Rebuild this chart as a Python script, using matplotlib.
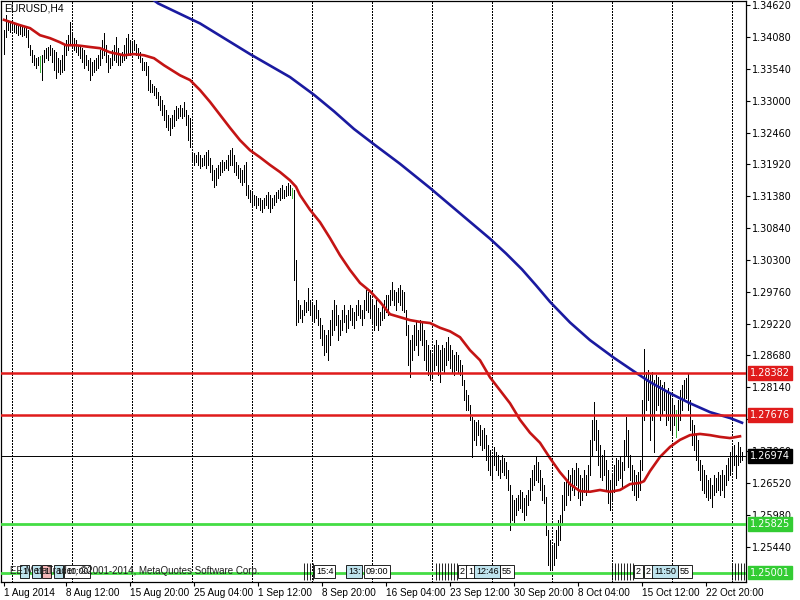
import matplotlib
matplotlib.use("Agg")
import matplotlib.pyplot as plt
import matplotlib.transforms as mtransforms
import numpy as np

# EURUSD H4 bars, 1 Aug 2014 08:00 .. 27 Oct 2014 (high / low per bar)
bar_high = [
    1.3420, 1.3445, 1.3437, 1.3433, 1.3433, 1.3430, 1.3432, 1.3428, 1.3427, 1.3428,
    1.3425, 1.3423, 1.3420, 1.3394, 1.3386, 1.3377, 1.3372, 1.3374, 1.3376, 1.3377,
    1.3386, 1.3389, 1.3391, 1.3394, 1.3389, 1.3386, 1.3382, 1.3372, 1.3369, 1.3377,
    1.3394, 1.3403, 1.3411, 1.3433, 1.3416, 1.3406, 1.3403, 1.3394, 1.3391, 1.3389,
    1.3386, 1.3377, 1.3369, 1.3372, 1.3365, 1.3369, 1.3372, 1.3377, 1.3386, 1.3403,
    1.3415, 1.3394, 1.3377, 1.3372, 1.3386, 1.3394, 1.3408, 1.3389, 1.3377, 1.3382,
    1.3394, 1.3406, 1.3413, 1.3403, 1.3399, 1.3403, 1.3396, 1.3389, 1.3382, 1.3372,
    1.3365, 1.3365, 1.3358, 1.3335, 1.3328, 1.3325, 1.3321, 1.3315, 1.3308, 1.3301,
    1.3293, 1.3284, 1.3276, 1.3271, 1.3276, 1.3284, 1.3291, 1.3288, 1.3293, 1.3288,
    1.3298, 1.3284, 1.3276, 1.3270, 1.3213, 1.3211, 1.3208, 1.3213, 1.3208, 1.3203,
    1.3208, 1.3213, 1.3216, 1.3203, 1.3191, 1.3182, 1.3186, 1.3191, 1.3196, 1.3199,
    1.3196, 1.3199, 1.3208, 1.3216, 1.3220, 1.3208, 1.3196, 1.3191, 1.3186, 1.3182,
    1.3191, 1.3196, 1.3157, 1.3149, 1.3145, 1.3140, 1.3138, 1.3135, 1.3135, 1.3132,
    1.3135, 1.3140, 1.3145, 1.3140, 1.3135, 1.3140, 1.3145, 1.3149, 1.3152, 1.3157,
    1.3149, 1.3155, 1.3160, 1.3157, 1.3152, 1.3149, 1.3030, 1.2962, 1.2953, 1.2945,
    1.2962, 1.2958, 1.2982, 1.2962, 1.2958, 1.2953, 1.2962, 1.2945, 1.2931, 1.2919,
    1.2911, 1.2903, 1.2911, 1.2928, 1.2945, 1.2962, 1.2953, 1.2937, 1.2928, 1.2945,
    1.2953, 1.2937, 1.2945, 1.2953, 1.2948, 1.2942, 1.2953, 1.2962, 1.2953, 1.2945,
    1.2962, 1.2979, 1.2975, 1.2970, 1.2962, 1.2953, 1.2962, 1.2948, 1.2942, 1.2953,
    1.2962, 1.2970, 1.2970, 1.2979, 1.2992, 1.2979, 1.2975, 1.2982, 1.2987, 1.2979,
    1.2975, 1.2945, 1.2919, 1.2894, 1.2903, 1.2919, 1.2928, 1.2911, 1.2928, 1.2925,
    1.2911, 1.2894, 1.2886, 1.2877, 1.2869, 1.2886, 1.2894, 1.2886, 1.2877, 1.2886,
    1.2881, 1.2891, 1.2899, 1.2886, 1.2877, 1.2869, 1.2874, 1.2869, 1.2860, 1.2852,
    1.2826, 1.2809, 1.2801, 1.2784, 1.2764, 1.2759, 1.2755, 1.2759, 1.2750, 1.2742,
    1.2745, 1.2733, 1.2716, 1.2708, 1.2699, 1.2713, 1.2704, 1.2699, 1.2691, 1.2699,
    1.2694, 1.2687, 1.2674, 1.2649, 1.2632, 1.2623, 1.2626, 1.2632, 1.2640, 1.2637,
    1.2626, 1.2632, 1.2640, 1.2660, 1.2674, 1.2683, 1.2696, 1.2687, 1.2674, 1.2660,
    1.2649, 1.2628, 1.2572, 1.2555, 1.2547, 1.2550, 1.2572, 1.2589, 1.2598, 1.2632,
    1.2654, 1.2657, 1.2674, 1.2666, 1.2677, 1.2674, 1.2686, 1.2677, 1.2666, 1.2660,
    1.2674, 1.2666, 1.2683, 1.2725, 1.2759, 1.2789, 1.2759, 1.2742, 1.2716, 1.2699,
    1.2708, 1.2691, 1.2674, 1.2657, 1.2666, 1.2683, 1.2694, 1.2691, 1.2696, 1.2687,
    1.2725, 1.2764, 1.2742, 1.2699, 1.2683, 1.2674, 1.2666, 1.2671, 1.2691, 1.2792,
    1.2879, 1.2840, 1.2843, 1.2835, 1.2840, 1.2826, 1.2835, 1.2832, 1.2826, 1.2818,
    1.2823, 1.2809, 1.2813, 1.2801, 1.2792, 1.2784, 1.2776, 1.2792, 1.2809, 1.2818,
    1.2826, 1.2830, 1.2838, 1.2792, 1.2759, 1.2750, 1.2733, 1.2725, 1.2691, 1.2683,
    1.2674, 1.2666, 1.2657, 1.2660, 1.2649, 1.2666, 1.2660, 1.2671, 1.2666, 1.2674,
    1.2666, 1.2683, 1.2694, 1.2704, 1.2711, 1.2716, 1.2699, 1.2721, 1.2713, 1.2704,
]
bar_low = [
    1.3379, 1.3408, 1.3420, 1.3416, 1.3420, 1.3416, 1.3415, 1.3411, 1.3413, 1.3410,
    1.3411, 1.3408, 1.3391, 1.3377, 1.3366, 1.3361, 1.3355, 1.3361, 1.3349, 1.3335,
    1.3366, 1.3372, 1.3369, 1.3377, 1.3366, 1.3352, 1.3338, 1.3349, 1.3345, 1.3349,
    1.3352, 1.3377, 1.3386, 1.3394, 1.3389, 1.3386, 1.3382, 1.3377, 1.3372, 1.3366,
    1.3355, 1.3361, 1.3352, 1.3335, 1.3343, 1.3349, 1.3352, 1.3355, 1.3361, 1.3372,
    1.3377, 1.3366, 1.3349, 1.3355, 1.3361, 1.3369, 1.3366, 1.3361, 1.3361, 1.3366,
    1.3369, 1.3372, 1.3377, 1.3377, 1.3382, 1.3386, 1.3377, 1.3372, 1.3366, 1.3352,
    1.3352, 1.3343, 1.3318, 1.3315, 1.3315, 1.3310, 1.3304, 1.3293, 1.3284, 1.3276,
    1.3267, 1.3255, 1.3250, 1.3242, 1.3254, 1.3257, 1.3267, 1.3271, 1.3274, 1.3271,
    1.3274, 1.3259, 1.3233, 1.3221, 1.3196, 1.3191, 1.3196, 1.3191, 1.3186, 1.3189,
    1.3191, 1.3186, 1.3191, 1.3179, 1.3166, 1.3154, 1.3157, 1.3169, 1.3174, 1.3179,
    1.3182, 1.3186, 1.3182, 1.3191, 1.3191, 1.3179, 1.3174, 1.3169, 1.3162, 1.3157,
    1.3162, 1.3140, 1.3135, 1.3128, 1.3123, 1.3123, 1.3118, 1.3123, 1.3115, 1.3111,
    1.3118, 1.3123, 1.3118, 1.3111, 1.3118, 1.3123, 1.3128, 1.3135, 1.3132, 1.3135,
    1.3135, 1.3138, 1.3140, 1.3140, 1.3135, 1.2996, 1.2919, 1.2925, 1.2931, 1.2925,
    1.2937, 1.2942, 1.2945, 1.2937, 1.2928, 1.2925, 1.2931, 1.2919, 1.2898, 1.2886,
    1.2869, 1.2874, 1.2860, 1.2886, 1.2903, 1.2911, 1.2919, 1.2894, 1.2903, 1.2911,
    1.2925, 1.2908, 1.2914, 1.2928, 1.2919, 1.2914, 1.2928, 1.2937, 1.2931, 1.2919,
    1.2931, 1.2945, 1.2942, 1.2931, 1.2925, 1.2911, 1.2919, 1.2911, 1.2919, 1.2928,
    1.2931, 1.2942, 1.2937, 1.2953, 1.2962, 1.2953, 1.2945, 1.2958, 1.2953, 1.2945,
    1.2942, 1.2903, 1.2852, 1.2832, 1.2860, 1.2877, 1.2886, 1.2869, 1.2894, 1.2886,
    1.2860, 1.2843, 1.2835, 1.2826, 1.2830, 1.2843, 1.2852, 1.2835, 1.2823, 1.2843,
    1.2840, 1.2852, 1.2860, 1.2847, 1.2840, 1.2835, 1.2843, 1.2840, 1.2835, 1.2818,
    1.2792, 1.2776, 1.2776, 1.2759, 1.2696, 1.2725, 1.2717, 1.2733, 1.2717, 1.2708,
    1.2711, 1.2691, 1.2674, 1.2666, 1.2660, 1.2683, 1.2674, 1.2666, 1.2660, 1.2671,
    1.2666, 1.2660, 1.2640, 1.2572, 1.2589, 1.2586, 1.2598, 1.2606, 1.2609, 1.2603,
    1.2589, 1.2598, 1.2615, 1.2623, 1.2640, 1.2649, 1.2657, 1.2654, 1.2640, 1.2623,
    1.2618, 1.2564, 1.2513, 1.2504, 1.2508, 1.2513, 1.2525, 1.2547, 1.2555, 1.2581,
    1.2606, 1.2615, 1.2632, 1.2623, 1.2640, 1.2632, 1.2649, 1.2627, 1.2615, 1.2623,
    1.2637, 1.2632, 1.2640, 1.2666, 1.2699, 1.2725, 1.2708, 1.2683, 1.2662, 1.2657,
    1.2666, 1.2640, 1.2618, 1.2606, 1.2623, 1.2637, 1.2649, 1.2657, 1.2660, 1.2645,
    1.2674, 1.2699, 1.2679, 1.2657, 1.2640, 1.2632, 1.2623, 1.2628, 1.2640, 1.2674,
    1.2759, 1.2776, 1.2792, 1.2725, 1.2759, 1.2704, 1.2776, 1.2784, 1.2759, 1.2767,
    1.2776, 1.2750, 1.2759, 1.2742, 1.2733, 1.2750, 1.2730, 1.2742, 1.2759, 1.2776,
    1.2792, 1.2796, 1.2776, 1.2742, 1.2716, 1.2708, 1.2691, 1.2674, 1.2657, 1.2640,
    1.2635, 1.2628, 1.2623, 1.2627, 1.2611, 1.2632, 1.2637, 1.2640, 1.2632, 1.2640,
    1.2628, 1.2649, 1.2657, 1.2666, 1.2674, 1.2683, 1.2660, 1.2683, 1.2688, 1.2691,
]
green_bars = [18, 144, 336]

# moving averages (bar index, value)
ma_fast_idx = [0, 8, 13, 18, 23, 28, 31, 36, 43, 48, 53, 60, 65, 70, 75, 80, 88, 93,
               98, 103, 108, 113, 118, 123, 128, 133, 138, 143, 146, 148, 153, 158,
               163, 168, 173, 178, 183, 188, 193, 198, 203, 208, 213, 218, 223, 228,
               233, 238, 243, 248, 253, 258, 263, 268, 273, 278, 283, 288, 293, 298,
               303, 308, 313, 318, 320, 323, 328, 333, 338, 343, 348, 353, 358, 363, 368]
ma_fast = [1.3437, 1.3428, 1.3423, 1.3411, 1.3406, 1.3399, 1.3394, 1.3394, 1.3391,
           1.3389, 1.3382, 1.3377, 1.3379, 1.3377, 1.3372, 1.3360, 1.3343, 1.3335,
           1.3318, 1.3298, 1.3276, 1.3254, 1.3233, 1.3216, 1.3204, 1.3191, 1.3179,
           1.3165, 1.3154, 1.3140, 1.3115, 1.3094, 1.3067, 1.3038, 1.3013, 1.2991,
           1.2977, 1.2959, 1.2938, 1.2933, 1.2928, 1.2925, 1.2923, 1.2915, 1.2909,
           1.2899, 1.2877, 1.2860, 1.2831, 1.2809, 1.2787, 1.2759, 1.2737, 1.2720,
           1.2694, 1.2670, 1.2650, 1.2638, 1.2637, 1.2640, 1.2637, 1.2640, 1.2650,
           1.2652, 1.2655, 1.2672, 1.2696, 1.2713, 1.2725, 1.2733, 1.2735, 1.2733,
           1.2730, 1.2728, 1.2731]
ma_slow_idx = [73, 77, 98, 123, 143, 155, 165, 175, 185, 198, 213, 228, 243, 251, 259,
               266, 273, 283, 293, 305, 315, 323, 333, 343, 353, 363, 369]
ma_slow = [1.3475, 1.3465, 1.3431, 1.3379, 1.3340, 1.3310, 1.3282, 1.3252, 1.3226,
           1.3193, 1.3152, 1.3109, 1.3066, 1.3041, 1.3014, 1.2987, 1.2959, 1.2924,
           1.2894, 1.2864, 1.2841, 1.2823, 1.2804, 1.2787, 1.2772, 1.2762, 1.2754]

# horizontal levels
red_levels = [1.28382, 1.27676]
bid_level = 1.26974
green_levels = [1.25825, 1.25001]

price_ticks = [1.25440, 1.25980, 1.26520, 1.27060, 1.27600, 1.28140, 1.28680,
               1.29220, 1.29760, 1.30300, 1.30840, 1.31380, 1.31920, 1.32460,
               1.33000, 1.33540, 1.34080, 1.34620]
time_idx = [0, 31, 63, 95, 127, 159, 191, 223, 255, 287, 319, 351]
time_labels = ["1 Aug 2014", "8 Aug 12:00", "15 Aug 20:00", "25 Aug 04:00",
               "1 Sep 12:00", "8 Sep 20:00", "16 Sep 04:00", "23 Sep 12:00",
               "30 Sep 20:00", "8 Oct 04:00", "15 Oct 12:00", "22 Oct 20:00"]
week_idx = [4, 34, 64, 94, 124, 154, 184, 214, 244, 274, 304, 334, 364]

# event tags along the bottom
tag_idx = [9, 15, 20, 26, 31, 156, 172, 181, 228, 232, 236, 249, 316, 321, 325, 338]
tag_text = ["1", "1", "1", "1", "10:00", "15:4", "13:", "09:00",
            "2", "1", "12:46", "55", "2", "2", "11:50", "55"]
tag_color = ["#bfe4ee", "#bfe4ee", "#f4b8b8", "#bfe4ee", "white", "white", "#bfe4ee",
             "white", "white", "white", "#bfe4ee", "white", "white", "white",
             "#bfe4ee", "white"]
tick_clusters = [(150, 155), (216, 226), (304, 315), (364, 370)]

FONT = ["Liberation Sans", "DejaVu Sans"]

fig = plt.figure(figsize=(8, 6), dpi=100, facecolor="white")
ax = fig.add_axes([1 / 800, 18 / 600, 745 / 800, 581 / 600])
ax.set_facecolor("white")

idx = np.arange(len(bar_high))
colors = ["#3cb83c" if i in green_bars else "black" for i in idx]
ax.vlines(idx, bar_low, bar_high, colors=colors, lw=0.5, antialiased=False, zorder=2)

for w in week_idx:
    ax.axvline(w, color="black", lw=0.6, dashes=(2.3, 2.3), antialiased=False, zorder=1)

ax.plot(ma_slow_idx, ma_slow, color="#1a1aa0", lw=1.9, zorder=3)
ax.plot(ma_fast_idx, ma_fast, color="#c41414", lw=1.9, zorder=3)

for lvl in red_levels:
    ax.axhline(lvl, color="#e01b1b", lw=1.8, zorder=4)
ax.axhline(bid_level, color="black", lw=0.7, zorder=4)
for lvl in green_levels:
    ax.axhline(lvl, color="#44dd44", lw=2.0, zorder=4)

# tick clusters and tags at the bottom
for a, b in tick_clusters:
    ax.vlines(np.arange(a, b + 1, 1.5), 1.2487, 1.2516, colors="black", lw=0.6, zorder=6)
for i, t, c in zip(tag_idx, tag_text, tag_color):
    ax.text(i, 1.25015, t, fontsize=6.5, family=FONT, ha="left", va="center", zorder=7,
            bbox=dict(boxstyle="square,pad=0.2", fc=c, ec="black", lw=0.6))

ax.text(3, 1.2502, "EE MetaTrader, \u00a92001-2014, MetaQuotes Software Corp.",
        fontsize=7, family=FONT, ha="left", va="center", color="#202020", zorder=8)

ax.text(0.004, 0.995, "EURUSD,H4", transform=ax.transAxes, fontsize=7.5, family=FONT,
        ha="left", va="top", zorder=7)

ax.set_xlim(-1.5, 371)
ax.set_ylim(1.2484, 1.3469)

ax.yaxis.tick_right()
ax.set_yticks(price_ticks)
ax.set_yticklabels(["%.5f" % p for p in price_ticks])
ax.tick_params(axis="y", direction="out", length=3, width=0.8, labelsize=7, pad=1)
ax.set_xticks(time_idx)
ax.set_xticklabels(time_labels, ha="left", family=FONT)
ax.tick_params(axis="x", direction="out", length=3, width=0.8, labelsize=7.2, pad=1)
for s in ax.spines.values():
    s.set_color("black")
    s.set_linewidth(0.9)

# price tags on the right axis
blend = mtransforms.blended_transform_factory(ax.transAxes, ax.transData)
tags = [(p, "#e01b1b") for p in red_levels] + [(bid_level, "black")] + \
       [(p, "#33cc33") for p in green_levels]
for p, c in tags:
    ax.annotate("%.5f" % p, xy=(1, p), xycoords=blend, xytext=(3, 0),
                textcoords="offset points", fontsize=7, color="white",
                ha="left", va="center", annotation_clip=False, zorder=10,
                bbox=dict(boxstyle="square,pad=0.2", fc=c, ec=c))

fig.savefig("out.png", dpi=100, facecolor="white")
